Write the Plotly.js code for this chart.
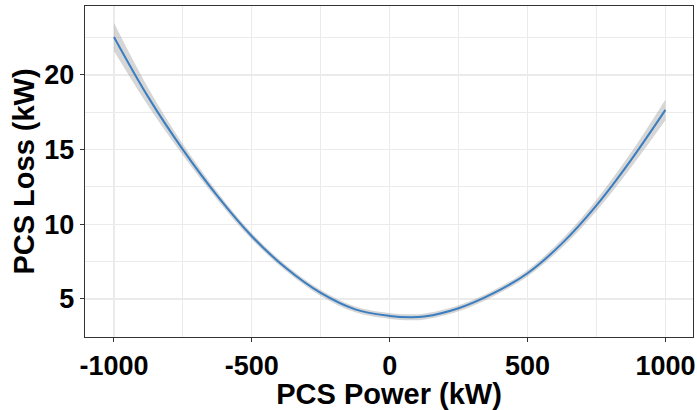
<!DOCTYPE html>
<html>
<head>
<meta charset="utf-8">
<script src="https://cdn.plot.ly/plotly-3.0.1.min.js"></script>
<style>
  html, body { margin: 0; padding: 0; background: #ffffff; }
  #chart { width: 697px; height: 410px; }
</style>
</head>
<body>
<div id="chart"></div>
<script>
// PCS power (kW) sample positions along the fitted curve
const powerKW = [-1000, -875, -750, -625, -500, -375, -250, -125, 0, 75, 125, 250, 375, 500, 625, 750, 875, 1000];
// fitted PCS loss (kW)
const lossKW = [22.55, 18.5, 15.0, 11.9, 9.2, 7.05, 5.4, 4.3, 3.86, 3.77, 3.82, 4.38, 5.37, 6.72, 8.72, 11.27, 14.3, 17.66];
// confidence band bounds (kW)
const lossUpper = [23.5, 19.1, 15.38, 12.17, 9.42, 7.25, 5.6, 4.5, 4.06, 3.97, 4.02, 4.58, 5.57, 6.94, 9.0, 11.65, 14.8, 18.36];
const lossLower = [21.6, 17.9, 14.62, 11.63, 8.98, 6.85, 5.2, 4.1, 3.66, 3.57, 3.62, 4.18, 5.17, 6.5, 8.44, 10.89, 13.8, 16.96];
// axis ticks
const xTicks = [-1000, -500, 0, 500, 1000];
const yTicks = [5, 10, 15, 20];

const fontFam = 'Liberation Sans, Arial, sans-serif';

const traces = [
  {
    x: powerKW, y: lossLower, type: 'scatter', mode: 'lines',
    line: { width: 0, shape: 'spline' }, hoverinfo: 'skip', showlegend: false
  },
  {
    x: powerKW, y: lossUpper, type: 'scatter', mode: 'lines',
    line: { width: 0, shape: 'spline' }, fill: 'tonexty',
    fillcolor: 'rgba(153,153,153,0.4)', hoverinfo: 'skip', showlegend: false
  },
  {
    x: powerKW, y: lossKW, type: 'scatter', mode: 'lines',
    line: { color: '#3a7dc0', width: 2, shape: 'spline' }, showlegend: false
  }
];

const layout = {
  width: 697, height: 410,
  margin: { l: 85, r: 4, t: 6, b: 73 },
  paper_bgcolor: '#ffffff', plot_bgcolor: '#ffffff',
  font: { family: fontFam, color: '#000000' },
  xaxis: {
    range: [-1105, 1100],
    tickvals: xTicks, ticktext: xTicks.map(String),
    tickfont: { family: fontFam, size: 27, color: '#000000', weight: 'bold' },
    ticks: 'outside', ticklen: 4, tickcolor: '#333333', tickwidth: 1,
    showline: true, linecolor: '#333333', linewidth: 1.2, mirror: true,
    showgrid: true, gridcolor: '#ebebeb', gridwidth: 1.2,
    minor: { dtick: 250, tick0: 0, showgrid: true, gridcolor: '#ebebeb', gridwidth: 1, ticks: '' },
    zeroline: false,
    title: { text: '<b>PCS Power (kW)</b>', font: { family: fontFam, size: 29, color: '#000000' }, standoff: 2 }
  },
  yaxis: {
    range: [2.45, 24.62],
    tickvals: yTicks, ticktext: yTicks.map(String),
    tickfont: { family: fontFam, size: 27, color: '#000000', weight: 'bold' },
    ticks: 'outside', ticklen: 4, tickcolor: '#333333', tickwidth: 1,
    showline: true, linecolor: '#333333', linewidth: 1.2, mirror: true,
    showgrid: true, gridcolor: '#ebebeb', gridwidth: 1.2,
    minor: { dtick: 2.5, tick0: 0, showgrid: true, gridcolor: '#ebebeb', gridwidth: 1, ticks: '' },
    zeroline: false,
    title: { text: '<b>PCS Loss (kW)</b>', font: { family: fontFam, size: 29, color: '#000000' }, standoff: 1 }
  }
};

Plotly.newPlot('chart', traces, layout, { staticPlot: true, displayModeBar: false });
</script>
</body>
</html>
